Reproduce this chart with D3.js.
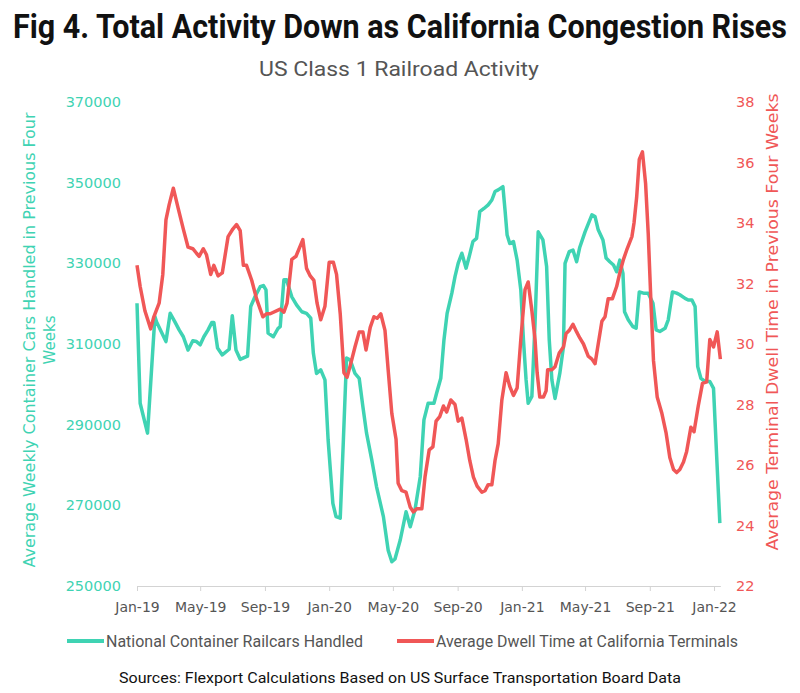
<!DOCTYPE html>
<head>
    <meta charset="utf-8">
    <script src="https://d3js.org/d3.v7.min.js"></script>
    <style>
        body { margin:0; background:#fff; }
        svg { display:block; }
        .axis text { font-family: "DejaVu Sans", sans-serif; }
    </style>
</head>

<body>
<div id="chart"></div>
<script>

    // ******************** Data ************************
    // days counted from 1 Jan 2019
    var railDay = [0,6,20,34,37,55,63,72,80,88, 97,106,113,120,127,135,142,146,153,162,
        175,181,188,196,210,216,224,234,240,245, 249,259,268,272,279,284,294,303,313,322,
        330,335,341,349,357,363,372,378,386,392, 398,405,414,422,429,436,446,455,468,477,
        484,490,500,511,519,528,538,545,553,564, 569,577,583,589,598,604,610,617,625,631,
        638,645,651,659,667,674,680,686,695,699, 703,708,715,722,729,734,739,743,750,756,
        762,771,778,783,788,794,803,810,813,821, 828,835,841,851,864,870,876,885,891,898,
        905,911,917,923,926,933,942,948,954,962, 971,980,986,993,1003,1009,1017,1025,1031,1041,
        1047,1054,1060,1065,1071,1079,1088,1095,1101,1107];
    var railCars = [320100,295300,287900,316800,315500,310600,317600,315500,313500,311800,
        308500,310800,310600,309800,311800,313500,315300,315300,309000,307300,
        308700,317000,308500,306200,307000,319300,321700,324200,324500,323400,
        312700,311800,313900,314300,325900,325900,321700,319700,318000,317600,
        316400,307700,302700,303600,301100,286200,270500,267200,266800,286200,
        306500,306000,302700,301500,294500,287900,281200,274600,267200,258900,
        256000,256700,261400,268400,264700,268900,277100,291200,295300,295300,
        297800,301500,311000,317600,322600,326700,330000,332500,328800,331700,
        335400,336200,342800,343600,344500,345700,347800,348200,349000,343200,
        337000,334900,335400,330800,323400,311000,301100,295300,297000,315100,
        337800,335800,329200,311000,301100,296500,302700,309300,330000,332900,
        333300,330400,334000,337800,342000,341600,338300,335800,331300,330400,
        329600,327900,330800,327500,318000,316000,314300,313900,322900,322600,
        322600,320100,313500,313100,313900,316000,322900,322600,322200,321300,
        320900,320900,319300,304400,301500,300700,300700,299000,282100,265600];

    var dwellDay = [0,6,15,26,32,42,49,55,61,69, 78,88,97,106,113,118,126,132,140,146,
        154,162,173,182,189,196,202,208,218,227, 239,246,253,272,279,285,294,302,315,322,
        329,336,342,349,357,365,373,379,386,393, 399,406,414,422,429,435,443,450,456,463,
        471,477,484,492,496,503,511,519,525,531, 541,547,555,562,568,575,582,588,596,604,
        610,617,625,632,639,646,655,661,667,674, 680,686,693,701,708,715,722,729,737,743,
        750,756,760,765,772,777,780,788,794,802, 810,815,821,828,835,841,848,857,864,870,
        876,883,889,895,903,911,917,924,930,940, 944,949,954,960,966,971,976,981,988,997,
        1005,1012,1019,1025,1031,1038,1044,1052,1058,1066, 1074,1082,1088,1095,1102,1108];
    var dwellTime = [32.6,31.9,31.1,30.5,30.9,31.35,32.3,34.1,34.6,35.15,
        34.5,33.8,33.2,33.15,33.0,32.9,33.15,32.95,32.3,32.6,
        32.25,32.35,33.55,33.8,33.95,33.75,32.6,32.6,32.1,31.5,
        30.9,31.0,31.0,31.15,31.05,31.35,32.8,32.9,33.45,32.5,
        32.25,32.1,31.35,30.8,31.25,32.7,32.7,32.3,31.0,29.05,
        28.9,29.35,29.9,30.4,30.4,29.8,30.55,30.9,30.85,31.0,
        30.45,29.15,27.7,26.85,25.4,25.15,25.1,24.6,24.45,24.55,
        24.55,25.6,26.5,26.6,27.45,27.6,27.95,27.75,28.15,28.0,
        27.45,27.55,26.85,26.15,25.6,25.3,25.1,25.15,25.35,25.35,
        26.15,26.7,28.15,29.05,28.6,28.3,28.55,30.15,31.8,32.05,
        31.1,30.15,29.05,28.25,28.25,28.45,29.15,29.15,29.25,29.7,
        29.9,30.35,30.45,30.65,30.4,30.2,30.0,29.6,29.5,29.35,
        30.0,30.75,30.9,31.5,31.5,31.9,32.35,32.8,33.1,33.55,
        34.0,34.85,36.1,36.35,35.3,33.65,31.45,29.45,28.25,27.7,
        27.05,26.25,25.85,25.75,25.85,26.1,26.45,27.25,27.1,27.95,
        28.7,28.75,30.15,29.9,30.4,29.5];

    var carTicks = [250000, 270000, 290000, 310000, 330000, 350000, 370000];
    var dwellTicks = [22, 24, 26, 28, 30, 32, 34, 36, 38];
    var seriesNames = ["National Container Railcars Handled", "Average Dwell Time at California Terminals"];

    // ******************** Globals ************************
    var green = "#3fd3b3", red = "#f05757";
    var start = new Date(2019, 0, 1);
    var toDate = function (d) { return d3.timeDay.offset(start, d); };

    var rail = railDay.map(function (d, i) { return [toDate(d), railCars[i]]; });
    var dwell = dwellDay.map(function (d, i) { return [toDate(d), dwellTime[i]]; });

    var x = d3.scaleTime()
        .domain([start, toDate(1108)])
        .range([137, 137 + 1108 * 0.5265]);
    var yL = d3.scaleLinear().domain([250000, 370000]).range([586, 102]);
    var yR = d3.scaleLinear().domain([22, 38]).range([586, 102]);

    var svg = d3.select("#chart").append("svg")
        .attr("width", 800)
        .attr("height", 693);

    // Titles (condensed look: narrow font size, stretched vertically)
    svg.append("text")
        .attr("transform", "translate(13,38) scale(1,1.32)")
        .attr("textLength", 774).attr("lengthAdjust", "spacingAndGlyphs")
        .style("font-family", "Roboto, sans-serif").style("font-weight", 700)
        .style("font-size", "25.5px").style("fill", "#111")
        .text("Fig 4. Total Activity Down as California Congestion Rises");

    svg.append("text")
        .attr("x", 259).attr("y", 76)
        .attr("textLength", 280).attr("lengthAdjust", "spacingAndGlyphs")
        .style("font-family", "Roboto, sans-serif")
        .style("font-size", "21px").style("fill", "#555")
        .text("US Class 1 Railroad Activity");

    // Axes
    var xAxis = svg.append("g")
        .attr("class", "axis")
        .attr("transform", "translate(0,586)")
        .call(d3.axisBottom(x)
            .tickValues(d3.timeMonth.every(4).range(start, toDate(1100)))
            .tickFormat(d3.timeFormat("%b-%y"))
            .tickSize(5).tickSizeOuter(0).tickPadding(11));
    xAxis.select(".domain").attr("stroke", "#d3d3d3");
    xAxis.selectAll(".tick line").attr("stroke", "#d3d3d3");
    xAxis.selectAll("text").style("font-size", "14px").style("fill", "#555");

    var leftAxis = svg.append("g")
        .attr("class", "axis")
        .attr("transform", "translate(137,0)")
        .call(d3.axisLeft(yL).tickValues(carTicks).tickFormat(d3.format("d"))
            .tickSize(0).tickPadding(16));
    leftAxis.select(".domain").remove();
    leftAxis.selectAll("text").style("font-size", "14.5px").style("fill", green);

    var rightAxis = svg.append("g")
        .attr("class", "axis")
        .attr("transform", "translate(721,0)")
        .call(d3.axisRight(yR).tickValues(dwellTicks).tickSize(0).tickPadding(15));
    rightAxis.select(".domain").remove();
    rightAxis.selectAll("text").style("font-size", "14.5px").style("fill", red);

    // Axis titles
    var lt = svg.append("g").attr("transform", "translate(0,340) rotate(-90)");
    lt.append("text")
        .attr("x", 0).attr("y", 35)
        .attr("text-anchor", "middle")
        .attr("textLength", 455).attr("lengthAdjust", "spacingAndGlyphs")
        .style("font-family", "DejaVu Sans, sans-serif").style("font-size", "15px").style("fill", green)
        .text("Average Weekly Container Cars Handled in Previous Four");
    lt.append("text")
        .attr("x", 0).attr("y", 55)
        .attr("text-anchor", "middle")
        .style("font-family", "DejaVu Sans, sans-serif").style("font-size", "15px").style("fill", green)
        .text("Weeks");

    svg.append("text")
        .attr("transform", "translate(778,322) rotate(-90)")
        .attr("text-anchor", "middle")
        .attr("textLength", 457).attr("lengthAdjust", "spacingAndGlyphs")
        .style("font-family", "DejaVu Sans, sans-serif").style("font-size", "15px").style("fill", red)
        .text("Average Terminal Dwell Time in Previous Four Weeks");

    // Lines
    var lineL = d3.line().x(function (d) { return x(d[0]); }).y(function (d) { return yL(d[1]); });
    var lineR = d3.line().x(function (d) { return x(d[0]); }).y(function (d) { return yR(d[1]); });

    svg.append("path").datum(rail)
        .attr("d", lineL)
        .attr("fill", "none").attr("stroke", green)
        .attr("stroke-width", 3.5).attr("stroke-linejoin", "round");
    svg.append("path").datum(dwell)
        .attr("d", lineR)
        .attr("fill", "none").attr("stroke", red)
        .attr("stroke-width", 3.5).attr("stroke-linejoin", "round");

    // Legend
    var legend = [
        {x0: 67, x1: 104, tx: 106, tl: 257, color: green, name: seriesNames[0]},
        {x0: 397, x1: 434, tx: 436, tl: 302, color: red, name: seriesNames[1]}
    ];
    var lg = svg.append("g").selectAll("g").data(legend).enter().append("g");
    lg.append("line")
        .attr("x1", function (d) { return d.x0; }).attr("x2", function (d) { return d.x1; })
        .attr("y1", 641).attr("y2", 641)
        .attr("stroke", function (d) { return d.color; }).attr("stroke-width", 4);
    lg.append("text")
        .attr("x", function (d) { return d.tx; }).attr("y", 647)
        .attr("textLength", function (d) { return d.tl; }).attr("lengthAdjust", "spacingAndGlyphs")
        .style("font-family", "Roboto, sans-serif").style("font-size", "16.5px").style("fill", "#555")
        .text(function (d) { return d.name; });

    // Source
    svg.append("text")
        .attr("x", 119).attr("y", 683)
        .attr("textLength", 562).attr("lengthAdjust", "spacingAndGlyphs")
        .style("font-family", "Roboto, sans-serif").style("font-size", "15.5px").style("fill", "#111")
        .text("Sources: Flexport Calculations Based on US Surface Transportation Board Data");

</script>
</body>
